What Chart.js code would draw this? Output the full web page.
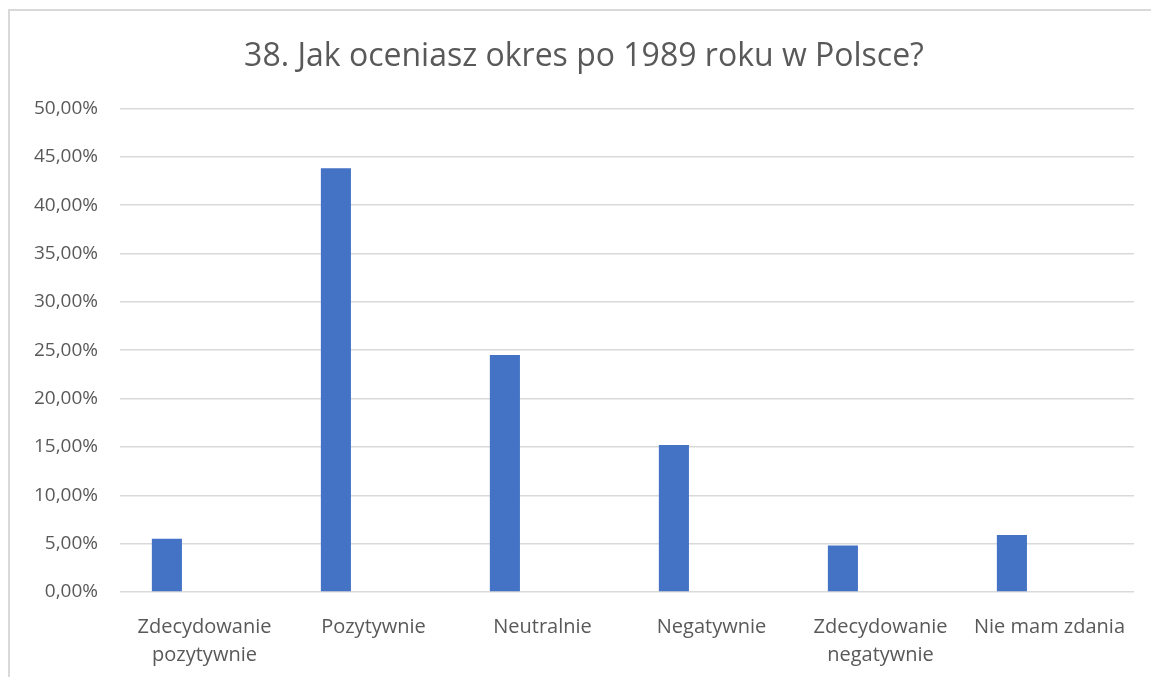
<!DOCTYPE html>
<html>
<head>
<meta charset="utf-8">
<script src="https://cdn.jsdelivr.net/npm/chart.js@4/dist/chart.umd.min.js"></script>
<style>
  body { margin: 0; background: #fff; }
  #frame {
    position: absolute; left: 8px; top: 9px; width: 1160px; height: 700px;
    border: 2px solid #d9d9d9; box-sizing: border-box;
  }
  #wrap { position: absolute; left: 0; top: 0; width: 1151px; height: 677px; }
</style>
</head>
<body>
<div id="frame"></div>
<div id="wrap"><canvas id="chart"></canvas></div>
<script>
const categories = [
  ['Zdecydowanie', 'pozytywnie'],
  'Pozytywnie',
  'Neutralnie',
  'Negatywnie',
  ['Zdecydowanie', 'negatywnie'],
  'Nie mam zdania'
];
const percentages = [5.5, 43.8, 24.5, 15.2, 4.8, 5.9];
// second, empty series - keeps bars shifted to the left of each category
const emptySeries = [null, null, null, null, null, null];
const yTicks = { min: 0, max: 50, step: 5 };

const textColor = '#595959';
const fontFamily = "'Open Sans', 'Noto Sans', sans-serif";

// the title in the original sits centred over the frame, not the padded box
const titleShift = {
  id: 'titleShift',
  afterLayout(chart) {
    const t = chart.titleBlock;
    if (t) { t.left = 17; t.right = chart.width; }
  }
};

document.addEventListener('DOMContentLoaded', function () {
  const ctx = document.getElementById('chart').getContext('2d');
  new Chart(ctx, {
    type: 'bar',
    data: {
      labels: categories,
      datasets: [{
        label: 'Seria1',
        data: percentages,
        backgroundColor: '#4472C4',
        categoryPercentage: 0.89,
        barPercentage: 0.4
      }, {
        label: 'Seria2',
        data: emptySeries,
        backgroundColor: '#ED7D31',
        categoryPercentage: 0.89,
        barPercentage: 0.4
      }]
    },
    plugins: [titleShift],
    options: {
      responsive: true,
      maintainAspectRatio: false,
      animation: false,
      layout: { padding: { left: 0, right: 17, top: 0, bottom: 0 } },
      scales: {
        x: {
          grid: { display: false },
          border: { display: false },
          ticks: {
            color: textColor,
            maxRotation: 0,
            autoSkip: false,
            padding: 13,
            font: { family: fontFamily, size: 20, lineHeight: 1.4 }
          },
          afterFit: function (scale) { scale.height = 85; }
        },
        y: {
          min: yTicks.min,
          max: yTicks.max,
          grid: { color: '#d9d9d9', lineWidth: 1.5, drawTicks: false },
          border: { display: false },
          ticks: {
            stepSize: yTicks.step,
            color: textColor,
            padding: 22,
            font: { family: fontFamily, size: 19 },
            callback: function (v) { return v.toFixed(2).replace('.', ',') + '%'; }
          },
          afterFit: function (scale) { scale.width = 120; }
        }
      },
      plugins: {
        legend: { display: false },
        tooltip: { enabled: false },
        title: {
          display: true,
          text: '38. Jak oceniasz okres po 1989 roku w Polsce?',
          color: textColor,
          font: { family: fontFamily, size: 32, weight: 'normal', lineHeight: 1.2 },
          padding: { top: 38, bottom: 32 }
        }
      }
    }
  });
});
</script>
</body>
</html>
